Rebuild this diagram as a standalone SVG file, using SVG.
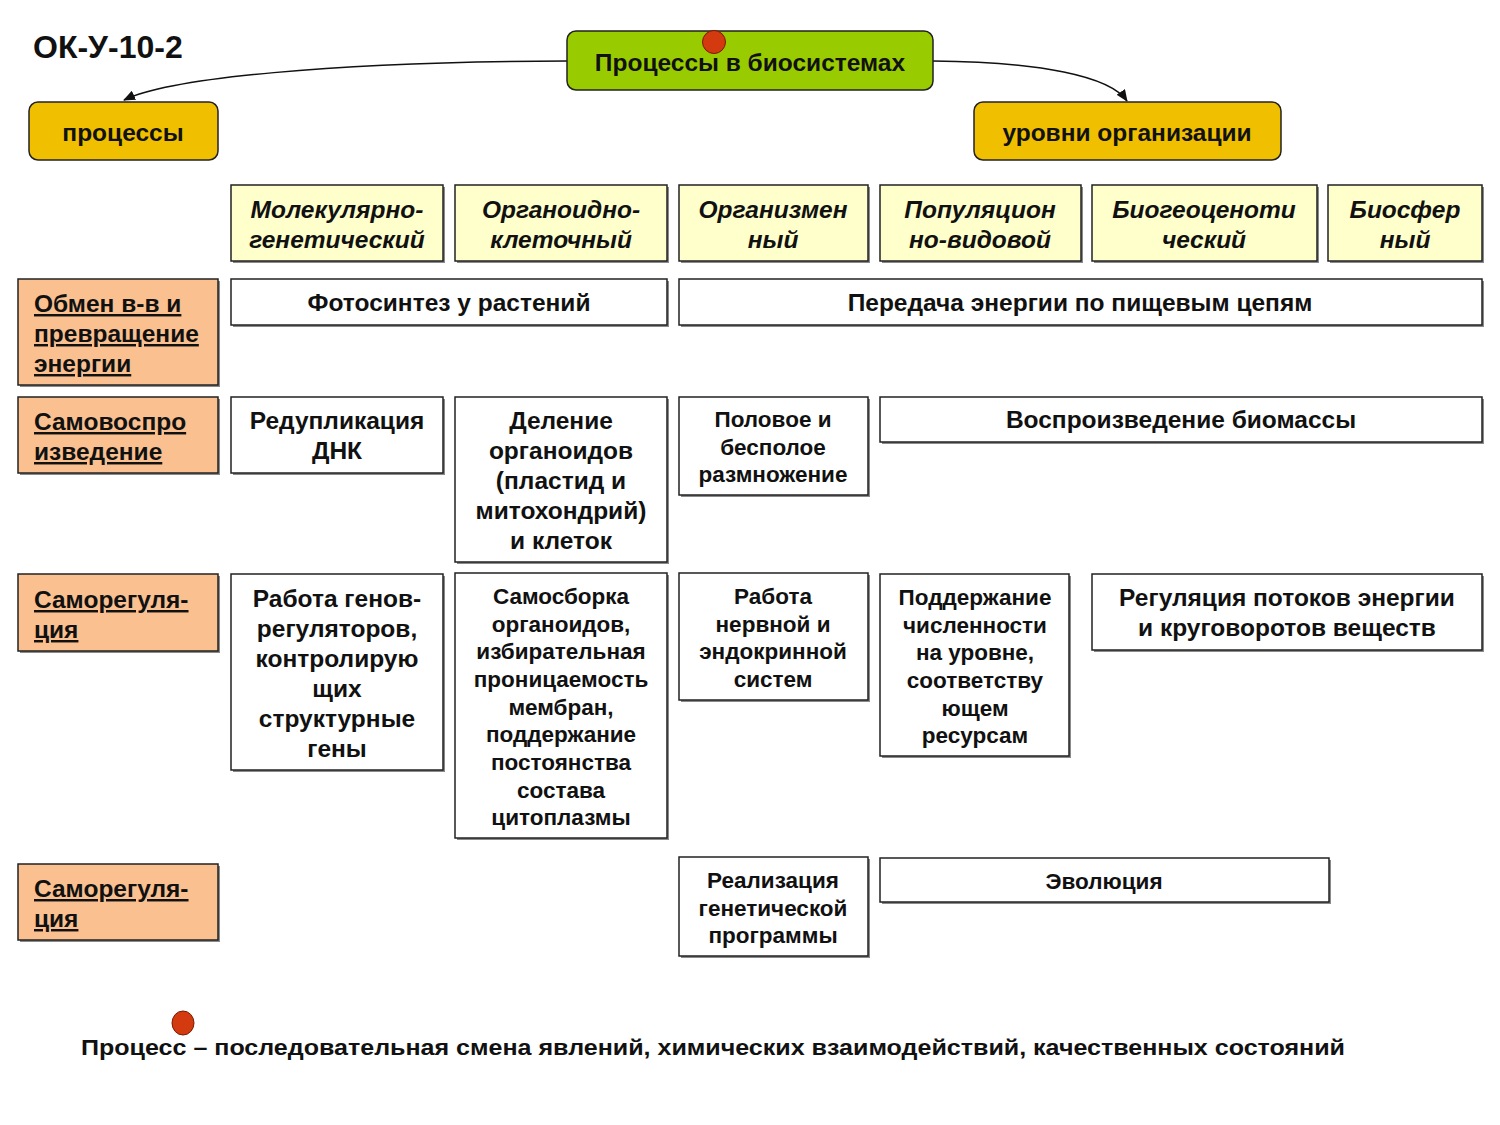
<svg xmlns="http://www.w3.org/2000/svg" width="1500" height="1125" viewBox="0 0 1500 1125">
<defs>
<marker id="arr" markerWidth="12" markerHeight="10" refX="11" refY="5" orient="auto" markerUnits="userSpaceOnUse">
<path d="M0,0 L12,5 L0,10 Z" fill="#111"/>
</marker>
<style>
text{font-family:"Liberation Sans",Arial,sans-serif;font-weight:bold;fill:#111;}
.c{text-anchor:middle;}
.sh{fill:#8a8a8a;}
.cell{fill:#fff;stroke:#222;stroke-width:1.5;}
.hdr{fill:#ffffcc;stroke:#222;stroke-width:1.5;}
.lbl{fill:#fac090;stroke:#222;stroke-width:1.5;}
.hi{font-style:italic;font-size:24.5px;}
.t23{font-size:24.5px;}
.t20{font-size:22.5px;}
.u{font-size:24.5px;text-decoration:underline;}
.top{font-size:24.5px;}
.edge{fill:none;stroke:#111;stroke-width:1.5;}
</style>
</defs>
<rect width="1500" height="1125" fill="#fff"/>
<text x="33" y="58" style="font-size:32px">ОК-У-10-2</text>

<g id="connectors">
<path class="edge" d="M567,61 C330,62 170,78 124,100" marker-end="url(#arr)"/>
<path class="edge" d="M933,61 C1040,62 1110,76 1127,101" marker-end="url(#arr)"/>
</g>

<g id="root">
<rect x="567" y="31" width="366" height="59" rx="9" fill="#99cc00" stroke="#222" stroke-width="1.5"/>
<text class="c top" x="750" y="71">Процессы в биосистемах</text>
<circle cx="714" cy="42" r="11.5" fill="#d43a10" stroke="#7a1a00" stroke-width="1"/>
</g>
<g id="processes">
<rect x="29" y="102" width="189" height="58" rx="9" fill="#f0c000" stroke="#222" stroke-width="1.5"/>
<text class="c top" x="123" y="141">процессы</text>
</g>
<g id="levels">
<rect x="974" y="102" width="307" height="58" rx="9" fill="#f0c000" stroke="#222" stroke-width="1.5"/>
<text class="c top" x="1127" y="141">уровни организации</text>
</g>

<!-- header row -->
<g id="h1"><rect class="sh" x="233" y="187" width="212" height="76"/><rect class="hdr" x="231" y="185" width="212" height="76"/>
<text class="c hi" x="337" y="218">Молекулярно-</text><text class="c hi" x="337" y="248">генетический</text></g>
<g id="h2"><rect class="sh" x="457" y="187" width="212" height="76"/><rect class="hdr" x="455" y="185" width="212" height="76"/>
<text class="c hi" x="561" y="218">Органоидно-</text><text class="c hi" x="561" y="248">клеточный</text></g>
<g id="h3"><rect class="sh" x="681" y="187" width="189" height="76"/><rect class="hdr" x="679" y="185" width="189" height="76"/>
<text class="c hi" x="773" y="218">Организмен</text><text class="c hi" x="773" y="248">ный</text></g>
<g id="h4"><rect class="sh" x="882" y="187" width="201" height="76"/><rect class="hdr" x="880" y="185" width="201" height="76"/>
<text class="c hi" x="980" y="218">Популяцион</text><text class="c hi" x="980" y="248">но-видовой</text></g>
<g id="h5"><rect class="sh" x="1094" y="187" width="225" height="76"/><rect class="hdr" x="1092" y="185" width="225" height="76"/>
<text class="c hi" x="1204" y="218">Биогеоценоти</text><text class="c hi" x="1204" y="248">ческий</text></g>
<g id="h6"><rect class="sh" x="1330" y="187" width="154" height="76"/><rect class="hdr" x="1328" y="185" width="154" height="76"/>
<text class="c hi" x="1405" y="218">Биосфер</text><text class="c hi" x="1405" y="248">ный</text></g>

<!-- row labels -->
<g id="l1"><rect class="sh" x="20" y="281" width="200" height="106"/><rect class="lbl" x="18" y="279" width="200" height="106"/>
<text class="u" x="34" y="312">Обмен в-в и</text><text class="u" x="34" y="342">превращение</text><text class="u" x="34" y="372">энергии</text></g>
<g id="l2"><rect class="sh" x="20" y="399" width="200" height="76"/><rect class="lbl" x="18" y="397" width="200" height="76"/>
<text class="u" x="34" y="430">Самовоспро</text><text class="u" x="34" y="460">изведение</text></g>
<g id="l3"><rect class="sh" x="20" y="576" width="200" height="77"/><rect class="lbl" x="18" y="574" width="200" height="77"/>
<text class="u" x="34" y="608">Саморегуля-</text><text class="u" x="34" y="638">ция</text></g>
<g id="l4"><rect class="sh" x="20" y="866" width="200" height="76"/><rect class="lbl" x="18" y="864" width="200" height="76"/>
<text class="u" x="34" y="897">Саморегуля-</text><text class="u" x="34" y="927">ция</text></g>

<!-- row 1 -->
<g id="r1a"><rect class="sh" x="233" y="281" width="436" height="46"/><rect class="cell" x="231" y="279" width="436" height="46"/>
<text class="c t23" x="449" y="311">Фотосинтез у растений</text></g>
<g id="r1b"><rect class="sh" x="681" y="281" width="803" height="46"/><rect class="cell" x="679" y="279" width="803" height="46"/>
<text class="c t23" x="1080" y="311">Передача энергии по пищевым цепям</text></g>

<!-- row 2 -->
<g id="r2a"><rect class="sh" x="233" y="399" width="212" height="76"/><rect class="cell" x="231" y="397" width="212" height="76"/>
<text class="c t23" x="337" y="429">Редупликация</text><text class="c t23" x="337" y="459">ДНК</text></g>
<g id="r2b"><rect class="sh" x="457" y="399" width="212" height="165"/><rect class="cell" x="455" y="397" width="212" height="165"/>
<text class="c t23" x="561" y="429">Деление</text><text class="c t23" x="561" y="459">органоидов</text><text class="c t23" x="561" y="489">(пластид и</text><text class="c t23" x="561" y="519">митохондрий)</text><text class="c t23" x="561" y="549">и клеток</text></g>
<g id="r2c"><rect class="sh" x="681" y="399" width="189" height="98"/><rect class="cell" x="679" y="397" width="189" height="98"/>
<text class="c t20" x="773" y="427">Половое и</text><text class="c t20" x="773" y="455">бесполое</text><text class="c t20" x="773" y="482">размножение</text></g>
<g id="r2d"><rect class="sh" x="882" y="399" width="602" height="45"/><rect class="cell" x="880" y="397" width="602" height="45"/>
<text class="c t23" x="1181" y="428">Воспроизведение биомассы</text></g>

<!-- row 3 -->
<g id="r3a"><rect class="sh" x="233" y="576" width="212" height="196"/><rect class="cell" x="231" y="574" width="212" height="196"/>
<text class="c t23" x="337" y="607">Работа генов-</text><text class="c t23" x="337" y="637">регуляторов,</text><text class="c t23" x="337" y="667">контролирую</text><text class="c t23" x="337" y="697">щих</text><text class="c t23" x="337" y="727">структурные</text><text class="c t23" x="337" y="757">гены</text></g>
<g id="r3b"><rect class="sh" x="457" y="575" width="212" height="265"/><rect class="cell" x="455" y="573" width="212" height="265"/>
<text class="c t20" x="561" y="604">Самосборка</text><text class="c t20" x="561" y="632">органоидов,</text><text class="c t20" x="561" y="659">избирательная</text><text class="c t20" x="561" y="687">проницаемость</text><text class="c t20" x="561" y="715">мембран,</text><text class="c t20" x="561" y="742">поддержание</text><text class="c t20" x="561" y="770">постоянства</text><text class="c t20" x="561" y="798">состава</text><text class="c t20" x="561" y="825">цитоплазмы</text></g>
<g id="r3c"><rect class="sh" x="681" y="575" width="189" height="127"/><rect class="cell" x="679" y="573" width="189" height="127"/>
<text class="c t20" x="773" y="604">Работа</text><text class="c t20" x="773" y="632">нервной и</text><text class="c t20" x="773" y="659">эндокринной</text><text class="c t20" x="773" y="687">систем</text></g>
<g id="r3d"><rect class="sh" x="882" y="576" width="189" height="182"/><rect class="cell" x="880" y="574" width="189" height="182"/>
<text class="c t20" x="975" y="605">Поддержание</text><text class="c t20" x="975" y="633">численности</text><text class="c t20" x="975" y="660">на уровне,</text><text class="c t20" x="975" y="688">соответству</text><text class="c t20" x="975" y="716">ющем</text><text class="c t20" x="975" y="743">ресурсам</text></g>
<g id="r3e"><rect class="sh" x="1094" y="576" width="390" height="76"/><rect class="cell" x="1092" y="574" width="390" height="76"/>
<text class="c t23" x="1287" y="606">Регуляция потоков энергии</text><text class="c t23" x="1287" y="636">и круговоротов веществ</text></g>

<!-- row 4 -->
<g id="r4a"><rect class="sh" x="681" y="859" width="189" height="99"/><rect class="cell" x="679" y="857" width="189" height="99"/>
<text class="c t20" x="773" y="888">Реализация</text><text class="c t20" x="773" y="916">генетической</text><text class="c t20" x="773" y="943">программы</text></g>
<g id="r4b"><rect class="sh" x="882" y="860" width="449" height="44"/><rect class="cell" x="880" y="858" width="449" height="44"/>
<text class="c t20" x="1104" y="889">Эволюция</text></g>

<!-- footnote -->
<ellipse cx="183" cy="1023" rx="11" ry="12" fill="#d43a10" stroke="#7a1a00" stroke-width="1"/>
<text x="81" y="1055" style="font-size:22px" textLength="1264" lengthAdjust="spacingAndGlyphs">Процесс – последовательная смена явлений, химических взаимодействий, качественных состояний</text>
</svg>
